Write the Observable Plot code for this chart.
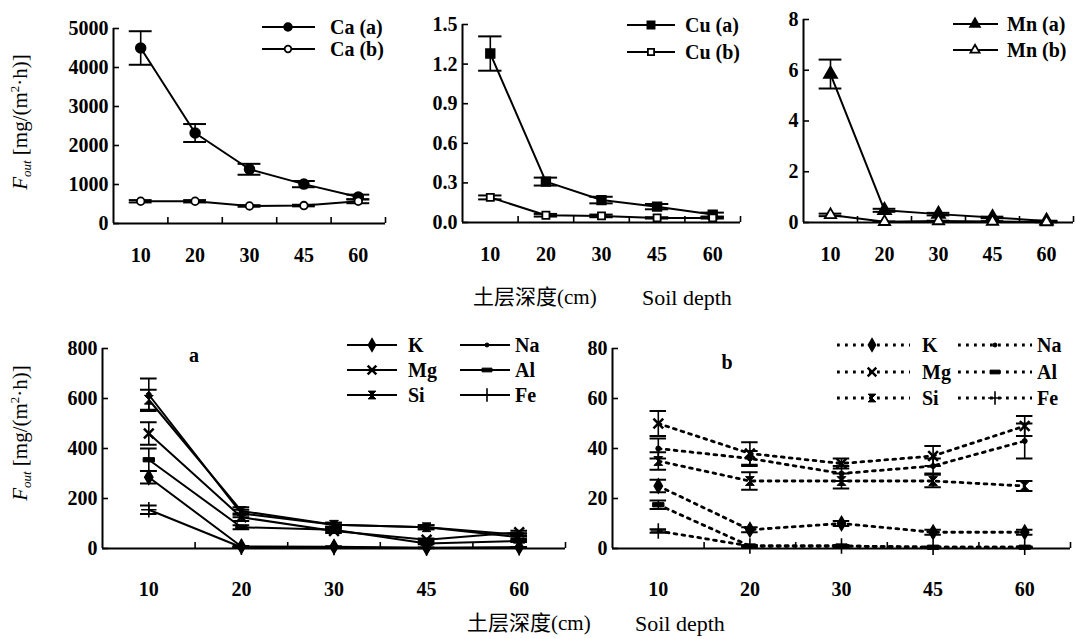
<!DOCTYPE html>
<html><head><meta charset="utf-8">
<script src="https://cdn.jsdelivr.net/npm/d3@7"></script>
<script src="https://cdn.jsdelivr.net/npm/@observablehq/plot@0.6"></script>
<style>
body{margin:0;background:#fff;}
#wrap{position:relative;width:1076px;height:639px;overflow:hidden;background:#fff;}
#wrap svg{position:absolute;left:0;top:0;}
</style></head><body><div id="wrap"></div>
<script>
// ---------- data ----------
const depths = ["10", "20", "30", "45", "60"];

const caA = [4500, 2320, 1390, 1010, 680];
const caAErr = [430, 230, 140, 80, 60];
const caB = [570, 570, 450, 460, 570];
const caBErr = [30, 30, 20, 20, 50];

const cuA = [1.28, 0.31, 0.17, 0.12, 0.06];
const cuAErr = [0.13, 0.03, 0.025, 0.02, 0.015];
const cuB = [0.19, 0.055, 0.05, 0.035, 0.035];
const cuBErr = [0.015, 0.01, 0.01, 0.005, 0.005];

const mnA = [5.85, 0.48, 0.33, 0.2, 0.06];
const mnAErr = [0.57, 0.06, 0.05, 0.03, 0.01];
const mnB = [0.3, 0.03, 0.06, 0.04, 0.02];
const mnBErr = [0.05, 0.01, 0.01, 0.01, 0.01];

// panel a (solid)
const kA = [285, 8, 7, 3, 5];       const kAErr = [25, 2, 2, 1, 1];
const naA = [615, 140, 95, 85, 55]; const naAErr = [65, 15, 8, 8, 6];
const mgA = [460, 125, 70, 35, 65]; const mgAErr = [45, 15, 8, 5, 6];
const alA = [355, 85, 75, 20, 30];  const alAErr = [45, 8, 6, 3, 4];
const siA = [595, 150, 95, 85, 45]; const siAErr = [40, 15, 8, 8, 5];
const feA = [155, 5, 4, 2, 3];      const feAErr = [17, 1, 1, 1, 1];

// panel b (dotted)
const kB = [25, 7.5, 10, 6.5, 6.5];   const kBErr = [2.5, 1, 1, 1, 1];
const naB = [40, 36, 30, 33, 43];     const naBErr = [4, 3, 3, 3, 7];
const mgB = [50, 38, 34, 37, 49];     const mgBErr = [5, 4.5, 2, 4, 4];
const alB = [17.5, 1, 1, 0.5, 0.5];   const alBErr = [1.7, 0.3, 0.3, 0.2, 0.2];
const siB = [35, 27, 27, 27, 25];     const siBErr = [3.5, 3.5, 3, 2.5, 2];
const feB = [7, 1, 1, 0.5, 0.5];      const feBErr = [0.7, 0.3, 0.3, 0.2, 0.2];

const yTicksCa = [0, 1000, 2000, 3000, 4000, 5000];
const yTicksCu = [0, 0.3, 0.6, 0.9, 1.2, 1.5];
const yTicksMn = [0, 2, 4, 6, 8];
const yTicksA = [0, 200, 400, 600, 800];
const yTicksB = [0, 20, 40, 60, 80];

const axisTitleZh = "土层深度";
const axisTitleUnit = "(cm)";
const axisTitleEn = "Soil depth";

// ---------- styling ----------
const W = 1076, H = 639;
const SERIF = "'Liberation Serif','Times New Roman',serif";
const CJK = "'Noto Sans CJK SC',sans-serif";
const FS = 20;

const symBar = {draw(c, size) { const s = Math.sqrt(size); c.rect(-s * 0.8, -s * 0.3, s * 1.6, s * 0.6); }};
const symHour = {draw(c, size) { const s = Math.sqrt(size) * 0.55; c.moveTo(-s, -s); c.lineTo(s, -s); c.lineTo(-s, s); c.lineTo(s, s); c.closePath(); }};

function ser(name, values, err, sym, fill, r, sw, lr) { return {name, values, err, sym, fill, r, sw, lr: lr || r}; }

const panels = [
  {left: 113, right: 385, top: 28, bottom: 223, yMax: 5000, yTicks: yTicksCa, yFmt: d3.format("d"), cap: 0.21, labelPad: 24,
   series: [ser("Ca (a)", caA, caAErr, d3.symbolCircle, "black", 5, 1.5, 4), ser("Ca (b)", caB, caBErr, d3.symbolCircle, "white", 3.8, 1.8, 3.3)],
   leg: {cols: [{x0: 262, x1: 315, xm: 288, tx: 330}], ys: [27, 49]}},
  {left: 462, right: 740, top: 24, bottom: 222, yMax: 1.5, yTicks: yTicksCu, yFmt: d3.format(".1f"), cap: 0.21, labelPad: 24,
   series: [ser("Cu (a)", cuA, cuAErr, d3.symbolSquare, "black", 5, 1.5, 4.2), ser("Cu (b)", cuB, cuBErr, d3.symbolSquare, "white", 4, 1.8, 3.5)],
   leg: {cols: [{x0: 627, x1: 675, xm: 651, tx: 685}], ys: [25, 52]}},
  {left: 803, right: 1073, top: 19, bottom: 222, yMax: 8, yTicks: yTicksMn, yFmt: d3.format("d"), cap: 0.21, labelPad: 24,
   series: [ser("Mn (a)", mnA, mnAErr, d3.symbolTriangle, "black", 5, 1.5, 3.8), ser("Mn (b)", mnB, mnBErr, d3.symbolTriangle, "white", 4.2, 1.8, 3.4)],
   leg: {cols: [{x0: 953, x1: 998, xm: 975, tx: 1007}], ys: [24, 50]}},
  {left: 102, right: 565, top: 348, bottom: 548, yMax: 800, yTicks: yTicksA, yFmt: d3.format("d"), cap: 0.09, labelPad: 33, tag: "a", tagX: 194, tagY: 355,
   series: [ser("K", kA, kAErr, d3.symbolDiamond, "black", 4.5, 1.2, 4), ser("Na", naA, naAErr, d3.symbolCircle, "black", 2.5, 1, 2),
            ser("Mg", mgA, mgAErr, d3.symbolTimes, "none", 4.5, 2.5, 4), ser("Al", alA, alAErr, symBar, "black", 4, 1, 3.5),
            ser("Si", siA, siAErr, symHour, "black", 4.5, 1, 4), ser("Fe", feA, feAErr, d3.symbolPlus, "none", 5, 1.6, 4.5)],
   leg: {cols: [{x0: 347, x1: 397, xm: 372, tx: 408}, {x0: 460, x1: 510, xm: 487, tx: 515}], ys: [345, 370, 395]}},
  {left: 612, right: 1070, top: 348, bottom: 548, yMax: 80, yTicks: yTicksB, yFmt: d3.format("d"), cap: 0.09, labelPad: 33, dash: "2.8 5.2", tag: "b", tagX: 727, tagY: 362,
   series: [ser("K", kB, kBErr, d3.symbolDiamond, "black", 4.5, 1.2, 4), ser("Na", naB, naBErr, d3.symbolCircle, "black", 2.5, 1, 2),
            ser("Mg", mgB, mgBErr, d3.symbolTimes, "none", 4.5, 2.5, 4), ser("Al", alB, alBErr, symBar, "black", 4, 1, 3.5),
            ser("Si", siB, siBErr, symHour, "black", 4.5, 1, 4), ser("Fe", feB, feBErr, d3.symbolPlus, "none", 5, 1.6, 4.5)],
   leg: {cols: [{x0: 837, x1: 910, xm: 872, tx: 922}, {x0: 958, x1: 1032, xm: 995, tx: 1037}], ys: [345, 372, 398]}}
];

const wrap = document.getElementById("wrap");

function makePanel(p) {
  const rows = s => s.values.map((v, i) => ({i, v, e: s.err[i]}));
  const marks = [
    Plot.ruleY([0], {stroke: "black", strokeWidth: 2}),
    Plot.ruleX([-0.5], {stroke: "black", strokeWidth: 2}),
    Plot.tickX(d3.range(0.5, 5, 1), {x: d => d, insetTop: (p.bottom - p.top) - 6, stroke: "black", strokeWidth: 1.6}),
    Plot.tickY(p.yTicks, {y: d => d, insetRight: (p.right - p.left) - 6, stroke: "black", strokeWidth: 1.6}),
    Plot.axisX({ticks: d3.range(5), tickFormat: i => depths[i], tickSize: 0, tickPadding: p.labelPad, fontSize: FS, fontWeight: "bold", fontFamily: SERIF, fill: "black", label: null}),
    Plot.axisY({ticks: p.yTicks, tickFormat: p.yFmt, tickSize: 0, tickPadding: 5, fontSize: FS, fontWeight: "bold", fontFamily: SERIF, fill: "black", label: null})
  ];
  for (const s of p.series) {
    marks.push(Plot.line(rows(s), {x: "i", y: "v", stroke: "black", strokeWidth: p.dash ? 2.8 : 2, strokeDasharray: p.dash || null}));
  }
  for (const s of p.series) {
    const r = rows(s);
    marks.push(Plot.ruleX(r, {x: "i", y1: d => d.v - d.e, y2: d => d.v + d.e, stroke: "black", strokeWidth: 1.6}));
    marks.push(Plot.ruleY(r, {y: d => d.v + d.e, x1: d => d.i - p.cap, x2: d => d.i + p.cap, stroke: "black", strokeWidth: 2}));
    marks.push(Plot.ruleY(r, {y: d => d.v - d.e, x1: d => d.i - p.cap, x2: d => d.i + p.cap, stroke: "black", strokeWidth: 2}));
    marks.push(Plot.dot(r, {x: "i", y: "v", symbol: s.sym, r: s.r, fill: s.fill, stroke: "black", strokeWidth: s.sw}));
  }
  return Plot.plot({
    width: W, height: H,
    marginLeft: p.left, marginRight: W - p.right, marginTop: p.top, marginBottom: H - p.bottom,
    x: {domain: [-0.5, 4.5]}, y: {domain: [0, p.yMax]},
    style: {background: "transparent", overflow: "visible", color: "black"},
    marks
  });
}

for (const p of panels) wrap.append(makePanel(p));

// ---------- overlay: legends, titles ----------
const ov = d3.create("svg").attr("width", W).attr("height", H).attr("font-family", SERIF);

for (const p of panels) {
  const nCols = p.leg.cols.length;
  p.series.forEach((s, k) => {
    const col = p.leg.cols[k % nCols];
    const y = p.leg.ys[Math.floor(k / nCols)];
    const g = ov.append("g");
    g.append("line").attr("x1", col.x0).attr("x2", col.x1).attr("y1", y).attr("y2", y)
      .attr("stroke", "black").attr("stroke-width", p.dash ? 2.8 : 2).attr("stroke-dasharray", p.dash || null);
    g.append("path").attr("d", d3.symbol(s.sym, s.lr * s.lr * Math.PI)()).attr("transform", `translate(${col.xm},${y})`)
      .attr("fill", s.fill).attr("stroke", "black").attr("stroke-width", s.sw);
    g.append("text").attr("x", col.tx).attr("y", y).attr("dy", "0.33em").attr("font-size", FS).attr("font-weight", "bold").text(s.name);
  });
  if (p.tag) ov.append("text").attr("x", p.tagX).attr("y", p.tagY).attr("dy", "0.33em").attr("text-anchor", "middle")
    .attr("font-size", FS).attr("font-weight", "bold").text(p.tag);
}

function yTitle(cx, cy) {
  const t = ov.append("text").attr("transform", `translate(${cx},${cy}) rotate(-90)`).attr("text-anchor", "middle").attr("font-size", 21);
  t.append("tspan").attr("font-style", "italic").text("F");
  t.append("tspan").attr("font-style", "italic").attr("font-size", 13).attr("dy", 4).text("out");
  t.append("tspan").attr("dy", -4).text("\u00a0[mg/(m");
  t.append("tspan").attr("font-size", 13).attr("dy", -8).text("2");
  t.append("tspan").attr("dy", 8).text("·h)]");
}
yTitle(27, 122);
yTitle(27, 433);

function xTitle(xZh, xEn, y) {
  const t = ov.append("text").attr("x", xZh).attr("y", y).attr("dy", "0.35em").attr("font-size", 21);
  t.append("tspan").attr("font-family", CJK).text(axisTitleZh);
  t.append("tspan").text(axisTitleUnit);
  ov.append("text").attr("x", xEn).attr("y", y).attr("dy", "0.35em").attr("font-size", 22).text(axisTitleEn);
}
xTitle(473, 642, 297);
xTitle(467, 635, 623);

wrap.append(ov.node());
</script>
</body></html>
